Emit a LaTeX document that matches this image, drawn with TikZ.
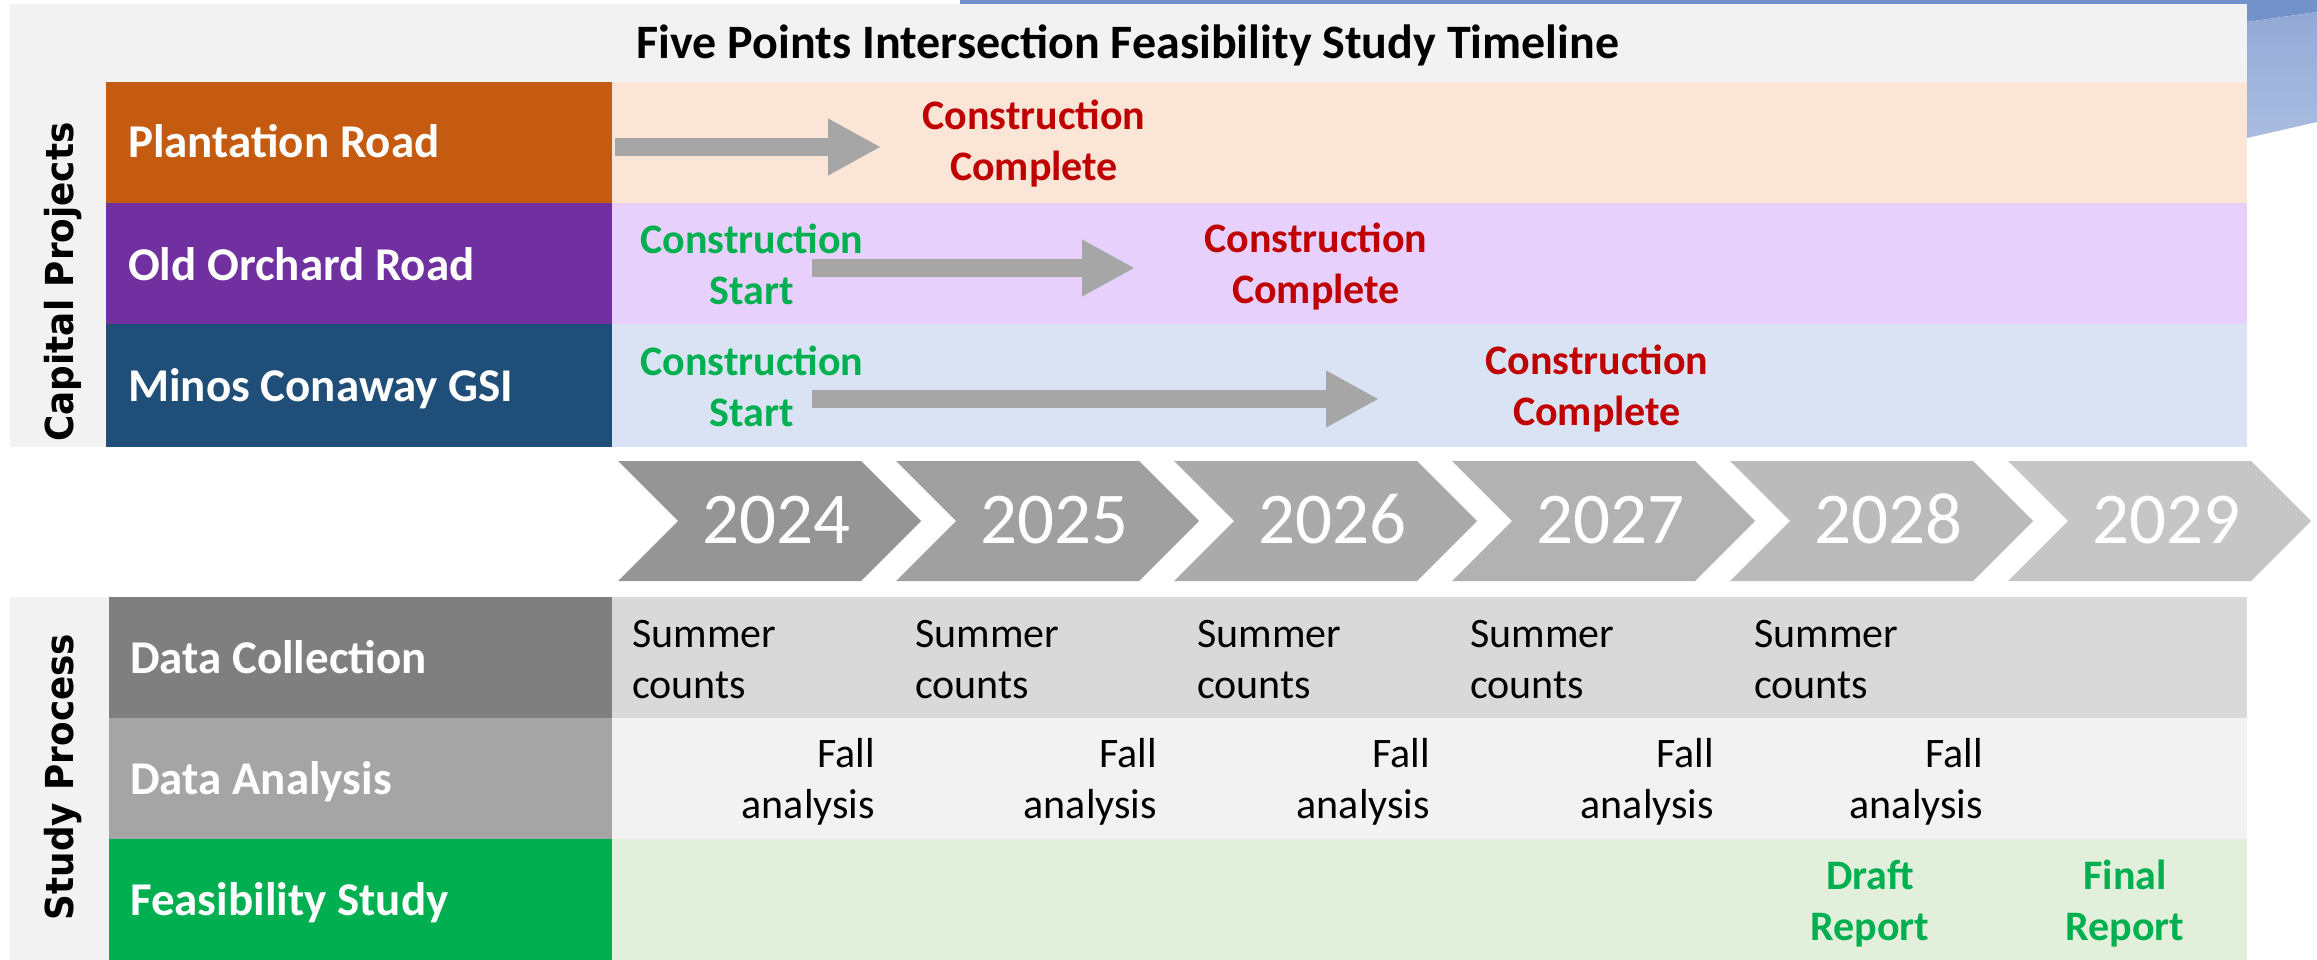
\documentclass[tikz,border=0pt]{standalone}
\usepackage{fontspec}
\setmainfont{Carlito}
\newfontfamily\sidefont[FakeStretch=0.93]{DejaVu Sans}
\usetikzlibrary{arrows.meta}
\definecolor{framegrey}{HTML}{F2F2F2}
\definecolor{bluedark}{HTML}{7392C9}
\definecolor{bluetop}{HTML}{93A9D5}
\definecolor{bluebot}{HTML}{AABCE1}
\definecolor{cAlab}{HTML}{C55A11}
\definecolor{cAbg}{HTML}{FBE5D6}
\definecolor{cBlab}{HTML}{7030A0}
\definecolor{cBbg}{HTML}{E7D1FC}
\definecolor{cClab}{HTML}{1F4E79}
\definecolor{cCbg}{HTML}{DAE3F3}
\definecolor{sAlab}{HTML}{7F7F7F}
\definecolor{sAbg}{HTML}{D9D9D9}
\definecolor{sBlab}{HTML}{A5A5A5}
\definecolor{sBbg}{HTML}{F2F2F2}
\definecolor{sClab}{HTML}{00B050}
\definecolor{sCbg}{HTML}{E2EFDA}
\definecolor{cred}{HTML}{C00000}
\definecolor{cgreen}{HTML}{00B050}
\definecolor{arrowgrey}{HTML}{A6A6A6}
\definecolor{chA}{HTML}{959595}
\definecolor{chB}{HTML}{A0A0A0}
\definecolor{chC}{HTML}{AAAAAA}
\definecolor{chD}{HTML}{B2B2B2}
\definecolor{chE}{HTML}{BBBBBB}
\definecolor{chF}{HTML}{C6C6C6}
\newcommand\twoln[6]{%
  \node[#2] (#1a) at (#3,#4) {#5};
  \node[#2] (#1b) at (#3,#4+51) {#6};
}
\begin{document}
\begin{tikzpicture}[x=1pt,y=-1pt,
  lab/.style={anchor=base west, inner sep=0, text=white, font=\fontsize{47}{56}\selectfont\bfseries},
  side/.style={rotate=90, anchor=base, inner sep=0, text=black, font=\sidefont\bfseries\fontsize{38.5}{44}\selectfont},
  body/.style={inner sep=0, font=\fontsize{42}{50}\selectfont},
  redtxt/.style={body, anchor=base, text=cred, font=\fontsize{42}{50}\selectfont\bfseries},
  greentxt/.style={body, anchor=base, text=cgreen, font=\fontsize{42}{50}\selectfont\bfseries},
  lefttxt/.style={body, anchor=base west, text=black},
  righttxt/.style={body, anchor=base east, text=black},
  yeartxt/.style={inner sep=0, anchor=base, text=white, font=\fontsize{73}{80}\selectfont},
  blockarrow/.style={draw=arrowgrey, line width=18pt, -{Triangle[length=53pt,width=53pt]}},
]
\useasboundingbox (0,0) rectangle (2317,960);
% decorative blue shape (top right)
\fill[bluedark] (960,0) -- (2317,0) -- (2317,12) -- (2247,22) -- (960,22) -- cycle;
\shade[top color=bluetop, bottom color=bluebot] (2247,22) -- (2317,12) -- (2317,122) -- (2247,138) -- cycle;
% frames
\fill[framegrey] (10,4) rectangle (2247,447);
\fill[framegrey] (10,597) rectangle (2247,960);
% capital project rows
\fill[cAlab] (106,82) rectangle (612,203);
\fill[cAbg] (612,82) rectangle (2247,203);
\fill[cBlab] (106,203) rectangle (612,324);
\fill[cBbg] (612,203) rectangle (2247,324);
\fill[cClab] (106,324) rectangle (612,447);
\fill[cCbg] (612,324) rectangle (2247,447);
% study process rows
\fill[sAlab] (109,597) rectangle (612,718);
\fill[sAbg] (612,597) rectangle (2247,718);
\fill[sBlab] (109,718) rectangle (612,839);
\fill[sBbg] (612,718) rectangle (2247,839);
\fill[sClab] (109,839) rectangle (612,960);
\fill[sCbg] (612,839) rectangle (2247,960);
% title and side labels
\node[anchor=base, inner sep=0, font=\fontsize{48}{56}\selectfont\bfseries] (title) at (1128,59) {Five Points Intersection Feasibility Study Timeline};
\node[side] (capital) at (73,282) {Capital Projects};
\node[side] (study) at (73,777) {Study Process};
\node[lab] (plantation) at (128,158) {Plantation Road};
\node[lab] (orchard) at (128,280) {Old Orchard Road};
\node[lab] (minos) at (128,401) {Minos Conaway GSI};
\node[lab] (collection) at (130,673) {Data Collection};
\node[lab] (analysis) at (130,794) {Data Analysis};
\node[lab] (feasibility) at (130,915) {Feasibility Study};
% project milestones
\twoln{pdone}{redtxt}{1034}{130}{Construction}{Complete}
\twoln{ostart}{greentxt}{752}{253}{Construction}{Start}
\twoln{odone}{redtxt}{1316}{252}{Construction}{Complete}
\twoln{mstart}{greentxt}{752}{375}{Construction}{Start}
\twoln{mdone}{redtxt}{1597}{374}{Construction}{Complete}
% block arrows
\coordinate (pAs) at (615,147); \coordinate (pAe) at (881,147);
\coordinate (oAs) at (812,268); \coordinate (oAe) at (1135,268);
\coordinate (mAs) at (812,399); \coordinate (mAe) at (1379,399);
\draw[blockarrow] (pAs) -- (pAe);
\draw[blockarrow] (oAs) -- (oAe);
\draw[blockarrow] (mAs) -- (mAe);
% year chevrons
\foreach \i/\yr/\col in {0/2024/chA,1/2025/chB,2/2026/chC,3/2027/chD,4/2028/chE,5/2029/chF}{
  \pgfmathsetmacro\L{618+278*\i}
  \fill[\col] (\L,461) -- ++(243,0) -- ++(60,60) -- ++(-60,60) -- ++(-243,0) -- ++(60,-60) -- cycle;
  \node[yeartxt] (y\yr) at (\L+158,543) {\yr};
}
% study process texts
\foreach \x [count=\k] in {632,915,1197,1470,1754}{
  \twoln{sum\k}{lefttxt}{\x}{647}{Summer}{counts}
}
\foreach \x [count=\k] in {875,1157,1430,1714,1983}{
  \twoln{fall\k}{righttxt}{\x}{767}{Fall}{analysis}
}
\twoln{draft}{greentxt}{1870}{889}{Draft}{Report}
\twoln{final}{greentxt}{2125}{889}{Final}{Report}
\end{tikzpicture}
\end{document}
